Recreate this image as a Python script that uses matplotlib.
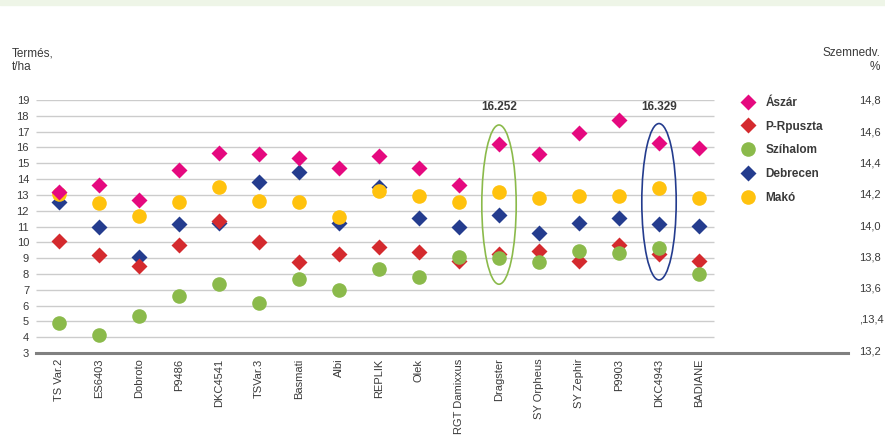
import matplotlib
matplotlib.use("Agg")
import matplotlib.pyplot as plt
from matplotlib.patches import Ellipse, Rectangle

plt.rcParams["font.family"] = ["Liberation Sans Narrow", "Liberation Sans", "DejaVu Sans"]

# ── Data ────────────────────────────────────────────────────
hybrids = ["TS Var.2", "ES6403", "Dobroto", "P9486", "DKC4541", "TSVar.3",
           "Basmati", "Albi", "REPLIK", "Olek", "RGT Damixxus", "Dragster",
           "SY Orpheus", "SY Zephir", "P9903", "DKC4943", "BADIANE"]

aszar     = [13.21, 13.63, 12.66, 14.58, 15.67, 15.57, 15.35, 14.68, 15.46,
             14.68, 13.63, 16.22, 15.57, 16.89, 17.72, 16.31, 15.99]
prpuszta  = [10.07, 9.21, 8.52, 9.82, 11.36, 10.03, 8.73, 9.27, 9.72,
             9.38, 8.79, 9.27, 9.48, 8.83, 9.86, 9.27, 8.83]
szihalom  = [4.87, 4.12, 5.32, 6.58, 7.36, 6.18, 7.68, 6.98, 8.33,
             7.78, 9.04, 9.00, 8.77, 9.44, 9.32, 9.61, 7.99]
debrecen  = [12.54, 10.94, 9.08, 11.13, 11.19, 13.82, 14.43, 11.25, 13.48,
             11.55, 10.94, 11.74, 10.56, 11.21, 11.53, 11.17, 11.06]
mako      = [13.06, 12.47, 11.67, 12.56, 13.48, 12.60, 12.57, 11.59, 13.25,
             12.94, 12.52, 13.19, 12.81, 12.94, 12.96, 13.42, 12.81]

yield_ticks = list(range(3, 20))
moist_ticks = [13.2, 13.4, 13.6, 13.8, 14.0, 14.2, 14.4, 14.6, 14.8]
moist_labels = ["13,2", ",13,4", "13,6", "13,8", "14,0", "14,2", "14,4", "14,6", "14,8"]

highlights = {"Dragster": "16.252", "DKC4943": "16.329"}

# ── Styles ──────────────────────────────────────────────────
C_PINK, C_RED, C_GREEN = "#E5097F", "#D42A2E", "#8BBA4B"
C_BLUE, C_YELLOW = "#243C8E", "#FFC20E"
TXT = "#3a3a3a"

series = [  # (label, values, color, marker, size, zorder)
    ("Ászár",     aszar,    C_PINK,   "D", 7.8, 7),
    ("P-Rpuszta", prpuszta, C_RED,    "D", 7.8, 4),
    ("Szíhalom",  szihalom, C_GREEN,  "o", 10.5, 5),
    ("Debrecen",  debrecen, C_BLUE,   "D", 7.8, 3),
    ("Makó",      mako,     C_YELLOW, "o", 10.5, 6),
]

W, H = 885, 442
fig = plt.figure(figsize=(W / 100, H / 100), dpi=100)
fig.patches.append(Rectangle((0, 1 - 5 / H), 1, 5 / H, transform=fig.transFigure,
                             color="#eef5e7", zorder=0))

x0, x1, ytop, ybot = 36, 848, 100, 353
ax = fig.add_axes([x0 / W, 1 - ybot / H, (x1 - x0) / W, (ybot - ytop) / H])

xs = list(range(len(hybrids)))
step = 40.0
ax.set_xlim((x0 - 59) / step, (x1 - 59) / step)
ax.set_ylim(3, 19)

grid_end = (714 - 59) / step
ax.hlines(yield_ticks[1:], ax.get_xlim()[0], grid_end, color="#cccccc", lw=1.0, zorder=1)

for label, vals, color, marker, ms, z in series:
    ax.plot(xs, vals, linestyle="none", marker=marker, ms=ms, color=color,
            mec="none", label=label, zorder=z, clip_on=False)

# highlighted hybrids: ellipse + value above
for name, txt in highlights.items():
    i = hybrids.index(name)
    col = C_GREEN if name == "Dragster" else C_BLUE
    vals = [aszar[i], prpuszta[i], szihalom[i], debrecen[i], mako[i]]
    lo, hi = min(vals) - 1.65, max(vals) + 1.2
    ax.add_patch(Ellipse((i, (lo + hi) / 2), 0.86, hi - lo,
                         fill=False, ec=col, lw=1.2, zorder=8))
    ax.text(i, 18.55, txt, ha="center", va="center", fontsize=8.5,
            fontweight="bold", color=TXT)

for s in ["top", "right", "left"]:
    ax.spines[s].set_visible(False)
ax.spines["bottom"].set_color("#808080")
ax.spines["bottom"].set_linewidth(2.2)

ax.set_yticks(yield_ticks)
ax.tick_params(axis="y", length=0, pad=5, labelsize=8, labelcolor=TXT)
ax.set_xticks(xs)
ax.set_xticklabels(hybrids, rotation=90, va="top", ha="center")
ax.tick_params(axis="x", length=0, pad=4, labelsize=8, labelcolor=TXT)

ax2 = ax.twinx()
ax2.set_ylim(13.181, 14.781)
ax2.set_yticks(moist_ticks)
ax2.set_yticklabels(moist_labels)
ax2.tick_params(axis="y", length=0, pad=8, labelsize=8, labelcolor=TXT)
for s in ax2.spines.values():
    s.set_visible(False)

fig.text(12 / W, 1 - 47 / H, "Termés,\nt/ha", ha="left", va="top",
         fontsize=8.5, color=TXT, linespacing=1.2)
fig.text(880 / W, 1 - 47 / H, "Szemnedv.\n%", ha="right", va="top",
         fontsize=8.5, color=TXT, linespacing=1.2, multialignment="right")

leg = ax.legend(loc="upper left", bbox_to_anchor=(736 / W, 1 - 92 / H),
                bbox_transform=fig.transFigure, frameon=False,
                prop={"weight": "bold", "size": 8.5}, handlelength=1.2,
                handletextpad=0.9, labelspacing=1.0, borderaxespad=0)
for t in leg.get_texts():
    t.set_color(TXT)

fig.savefig("out.png", dpi=100)
